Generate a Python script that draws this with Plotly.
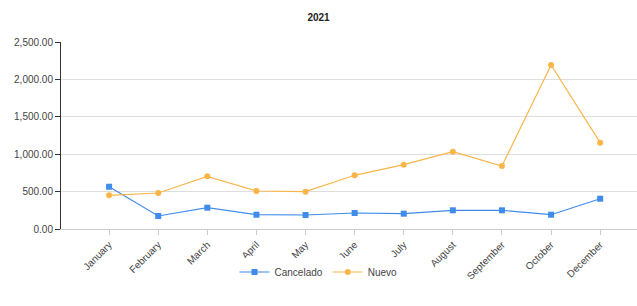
import plotly.graph_objects as go

months = ["January", "February", "March", "April", "May", "June", "July",
          "August", "September", "October", "December"]
cancelado = [565, 174, 285, 191, 187, 214, 205, 250, 250, 191, 405]
nuevo = [450, 481, 704, 508, 499, 718, 860, 1033, 842, 2193, 1154]

blue = "#3f8ceb"
orange = "#fab54a"

fig = go.Figure()
fig.add_trace(go.Scatter(x=months, y=cancelado, name="Cancelado", mode="lines+markers",
                         line=dict(color=blue, width=1.2),
                         marker=dict(symbol="square", size=6, color=blue)))
fig.add_trace(go.Scatter(x=months, y=nuevo, name="Nuevo", mode="lines+markers",
                         line=dict(color=orange, width=1.2),
                         marker=dict(symbol="circle", size=6, color=orange)))

fig.update_layout(
    width=637, height=306,
    margin=dict(l=61, r=0, t=42, b=77, autoexpand=False),
    paper_bgcolor="white", plot_bgcolor="white",
    font=dict(family="Arial, Liberation Sans, sans-serif", size=10, color="#444"),
    title=dict(text="<b>2021</b>", x=0.5, xanchor="center", y=1 - 17 / 306, yref="container",
               yanchor="middle", font=dict(size=10, color="#222")),
    showlegend=True,
    legend=dict(orientation="h", xref="container", x=0.5, xanchor="center",
                y=-0.23, yanchor="middle", itemwidth=30,
                font=dict(size=10, color="#444")),
    xaxis=dict(type="category", range=[-0.98, 10.75], tickangle=-45, automargin=False,
               showgrid=False, showline=True, linecolor="#ccc", linewidth=1,
               ticks="outside", ticklen=5, tickcolor="#ccc",
               tickfont=dict(size=10, color="#444")),
    yaxis=dict(range=[0, 2500], tickvals=[0, 500, 1000, 1500, 2000, 2500], automargin=False,
               tickformat=",.2f", showgrid=True, gridcolor="#ddd", gridwidth=1,
               showline=True, linecolor="#333", linewidth=1,
               ticks="outside", ticklen=5, tickcolor="#333",
               zeroline=False, tickfont=dict(size=10, color="#444")),
)

fig.write_html("out.html", config={"displayModeBar": False},
               post_script="document.body.style.margin='0';document.body.style.overflow='hidden';")
